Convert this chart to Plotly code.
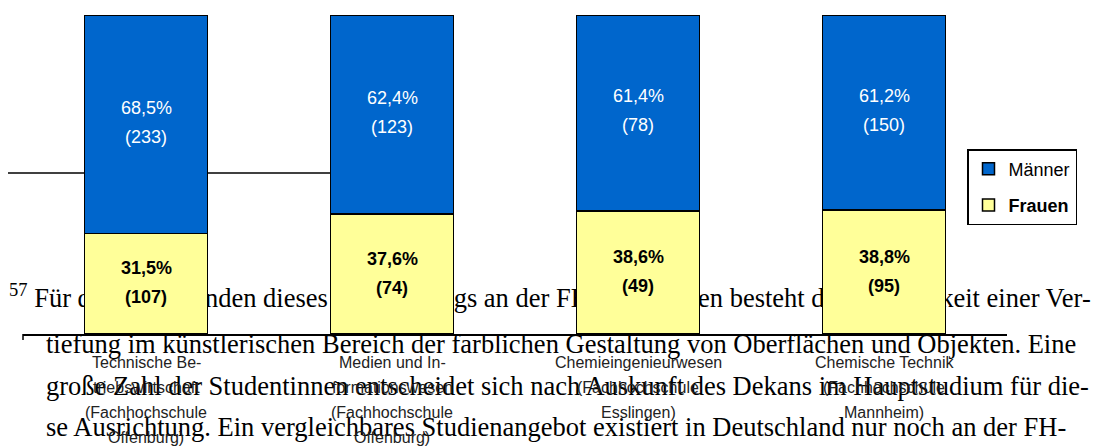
import plotly.graph_objects as go

# data
cat_lines = [
    ["Technische Be-", "triebswirtschaft", "(Fachhochschule", "Offenburg)"],
    ["Medien und In-", "formationswesen", "(Fachhochschule", "Offenburg)"],
    ["Chemieingenieurwesen", "(Fachhochschule", "Esslingen)"],
    ["Chemische Technik", "(Fachhochschule", "Mannheim)"],
]
categories = ["<br>".join(lines) for lines in cat_lines]

frauen_pct = [31.5, 37.6, 38.6, 38.8]
maenner_pct = [68.5, 62.4, 61.4, 61.2]
frauen_n = [107, 74, 49, 95]
maenner_n = [233, 123, 78, 150]

# page text that runs through the chart in the scan
body_lines = [
    "<sup>57</sup> Für die Studierenden dieses Studiengangs an der FH Furtwangen besteht die Möglichkeit einer Ver-",
    "tiefung im künstlerischen Bereich der farblichen Gestaltung von Oberflächen und Objekten. Eine",
    "große Zahl der Studentinnen entscheidet sich nach Auskunft des Dekans im Hauptstudium für die-",
    "se Ausrichtung. Ein vergleichbares Studienangebot existiert in Deutschland nur noch an der FH-",
]

BLUE = "#0066CC"
YELLOW = "#FFFF99"
SANS = "Liberation Sans, Arial, sans-serif"
SERIF = "Liberation Serif, Times New Roman, serif"

W, H = 1112, 446
L, R, T, B = 23, 105, 15, 112
PW, PH = W - L - R, H - T - B


def px_x(px):
    return (px - L) / PW


def px_y(py):
    return (H - B - py) / PH


def pct(v):
    return f"{v:.1f}%".replace(".", ",")


fig = go.Figure()
fig.add_trace(go.Bar(
    x=categories, y=frauen_pct, name="<b>Frauen</b>", legendgroup="f", legendrank=2,
    marker=dict(color=YELLOW, line=dict(color="black", width=1.5)),
    hoverinfo="skip",
))
fig.add_trace(go.Bar(
    x=categories, y=maenner_pct, name="Männer", legendgroup="m", legendrank=1,
    marker=dict(color=BLUE, line=dict(color="black", width=1.5)),
    hoverinfo="skip",
))

annotations = []
for c, fp, mp, fn, mn in zip(categories, frauen_pct, maenner_pct, frauen_n, maenner_n):
    fmid = fp / 2
    mmid = fp + mp / 2
    for txt, shift in [(pct(mp), 16.5), (f"({mn})", -12.5)]:
        annotations.append(dict(x=c, y=mmid, text=txt, showarrow=False, yshift=shift,
                                font=dict(family=SANS, size=18, color="white")))
    for txt, shift in [(f"<b>{pct(fp)}</b>", 15.5), (f"<b>({fn})</b>", -13.5)]:
        annotations.append(dict(x=c, y=fmid, text=txt, showarrow=False, yshift=shift,
                                font=dict(family=SANS, size=18, color="black")))

# category labels, one annotation per line for the wide line spacing
for c, lines in zip(categories, cat_lines):
    for i, line in enumerate(lines):
        annotations.append(dict(x=c, y=0, yref="y", text=line, showarrow=False,
                                yanchor="middle", yshift=-28 - 25.3 * i,
                                font=dict(family=SANS, size=16, color="#222222")))

shapes = [
    # footnote rule behind the bars
    dict(type="line", xref="paper", yref="paper", x0=px_x(8), x1=px_x(330),
         y0=px_y(173), y1=px_y(173), line=dict(color="black", width=1.5), layer="below"),
    # small tick at the left end of the axis
    dict(type="line", xref="paper", yref="paper", x0=0, x1=0,
         y0=0, y1=px_y(340), line=dict(color="black", width=1.5), layer="below"),
]
body_y = [298, 341, 383, 424]
body_x = [6, 43, 43, 43]
for txt, bx, by in zip(body_lines, body_x, body_y):
    shapes.append(dict(
        type="rect", xref="paper", yref="paper", x0=px_x(bx), x1=px_x(1102),
        y0=px_y(by), y1=px_y(by), line=dict(width=0), fillcolor="rgba(0,0,0,0)",
        layer="below",
        label=dict(text=txt, textposition="middle left", padding=0,
                   font=dict(family=SERIF, size=26.5, color="black")),
    ))

fig.update_layout(
    width=W, height=H,
    margin=dict(l=L, r=R, t=T, b=B),
    barmode="stack",
    bargap=0.5,
    paper_bgcolor="white",
    plot_bgcolor="rgba(0,0,0,0)",
    showlegend=True,
    legend=dict(
        x=px_x(967), xanchor="left", y=px_y(149), yanchor="top",
        traceorder="grouped", tracegroupgap=10,
        bordercolor="black", borderwidth=1.5, bgcolor="white",
        font=dict(family=SANS, size=18, color="black"),
    ),
    xaxis=dict(showline=True, linecolor="black", linewidth=1.5, showgrid=False,
               showticklabels=False, ticks="", zeroline=False, fixedrange=True),
    yaxis=dict(range=[0, 100], visible=False, fixedrange=True),
    annotations=annotations,
    shapes=shapes,
)

# the page would otherwise add the browser's default 8px body margin
fig.write_html("out.html", config={"displayModeBar": False},
               post_script="document.body.style.margin='0';")
